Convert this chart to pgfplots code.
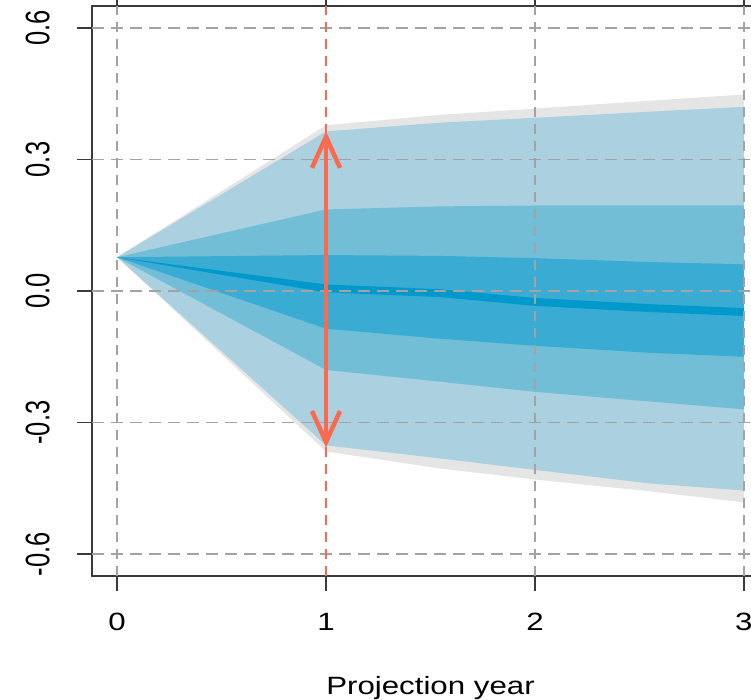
\documentclass[border=0pt]{standalone}
\usepackage{fontspec}
\setmainfont[FakeStretch=1.25]{Liberation Sans}
\newfontfamily\yfont[FakeStretch=0.75]{Liberation Sans}
\usepackage{pgfplots}
\pgfplotsset{compat=1.18}
\usetikzlibrary{arrows.meta}
\definecolor{cgray}{HTML}{E5E5E5}
\definecolor{clight}{HTML}{ABD0DF}
\definecolor{cmid}{HTML}{72BED7}
\definecolor{cdark}{HTML}{3AACD3}
\definecolor{cline}{HTML}{0099CC}
\definecolor{cred}{HTML}{F96A4F}
\definecolor{cgrid}{HTML}{A3A3A3}
\definecolor{axcol}{HTML}{3A3A3A}
\begin{document}
\begin{tikzpicture}
\begin{axis}[at={(0,0)}, anchor=south west, scale only axis,
  width=677pt, height=570pt,
  xmin=-0.12, xmax=3.12, ymin=-0.65, ymax=0.65,
  xtick={0,1,2,3}, xticklabels={0,1,2,3},
  ytick={-0.6,-0.3,0,0.3,0.6}, yticklabels={-0.6,-0.3,0.0,0.3,0.6},
  tick align=outside, major tick length=15pt,
  axis line style={color=axcol, line width=1.6pt},
  tick style={color=axcol, line width=1.6pt},
  /pgf/number format/assume math mode=true,
  xticklabel style={font=\fontsize{25}{30}\selectfont, anchor=north, inner sep=0pt},
  yticklabel style={font=\yfont\fontsize{34}{40}\selectfont, rotate=90, anchor=south, inner sep=0pt},
  xticklabel shift=22pt, yticklabel shift=27pt,
  xlabel={Projection year},
  xlabel style={font=\fontsize{25}{30}\selectfont, at={(axis description cs:0.5,0)}, anchor=base, yshift=-118pt, inner sep=0pt},
]
% fan bands
\addplot[fill=cgray, draw=none] coordinates {(0,0.077)(1,0.378)(1.55,0.402)(2,0.416)(2.55,0.434)(3,0.448)(3,-0.482)(2.55,-0.457)(2,-0.430)(1.55,-0.405)(1,-0.366)} -- cycle;
\addplot[fill=clight, draw=none] coordinates {(0,0.077)(1,0.364)(1.55,0.384)(2,0.395)(2.55,0.409)(3,0.420)(3,-0.455)(2.55,-0.439)(2,-0.408)(1.55,-0.382)(1,-0.352)} -- cycle;
\addplot[fill=cmid, draw=none] coordinates {(0,0.077)(1,0.186)(1.55,0.193)(2,0.195)(2.55,0.195)(3,0.195)(3,-0.270)(2.55,-0.252)(2,-0.230)(1.55,-0.207)(1,-0.180)} -- cycle;
\addplot[fill=cdark, draw=none] coordinates {(0,0.077)(1,0.082)(1.55,0.080)(2,0.075)(2.55,0.066)(3,0.061)(3,-0.150)(2.55,-0.141)(2,-0.125)(1.55,-0.109)(1,-0.086)} -- cycle;
\addplot[fill=cline, draw=none] coordinates {(0,0.077)(1,0.015)(1.55,0.004)(2,-0.016)(2.55,-0.030)(3,-0.039)(3,-0.057)(2.55,-0.048)(2,-0.034)(1.55,-0.014)(1,-0.003)} -- cycle;
% grid lines
\addplot[cgrid, line width=2.3pt, dash pattern=on 10pt off 7pt] coordinates {(0,-0.65)(0,0.65)};
\addplot[cgrid, line width=2.3pt, dash pattern=on 10pt off 7pt] coordinates {(2,-0.65)(2,0.65)};
\addplot[cgrid, line width=2.3pt, dash pattern=on 10pt off 7pt] coordinates {(3,-0.65)(3,0.65)};
\addplot[cgrid, line width=1.8pt, dash pattern=on 12pt off 7pt] coordinates {(-0.12,0.6)(3.12,0.6)};
\addplot[cgrid, line width=1.8pt, dash pattern=on 12pt off 7pt] coordinates {(-0.12,0.3)(3.12,0.3)};
\addplot[cgrid, line width=1.8pt, dash pattern=on 12pt off 7pt] coordinates {(-0.12,0)(3.12,0)};
\addplot[cgrid, line width=1.8pt, dash pattern=on 12pt off 7pt] coordinates {(-0.12,-0.3)(3.12,-0.3)};
\addplot[cgrid, line width=1.8pt, dash pattern=on 12pt off 7pt] coordinates {(-0.12,-0.6)(3.12,-0.6)};
\addplot[cred, line width=2.3pt, dash pattern=on 10pt off 7pt] coordinates {(1,-0.65)(1,0.65)};
% arrow
\addplot[cred, line width=4.5pt, {Straight Barb[length=31pt,width=28pt]}-{Straight Barb[length=31pt,width=28pt]}] coordinates {(1,-0.357)(1,0.364)};
\end{axis}
\pgfresetboundingbox
\path[use as bounding box] (-92pt,-123pt) rectangle (659pt,576pt);
\end{tikzpicture}
\end{document}
